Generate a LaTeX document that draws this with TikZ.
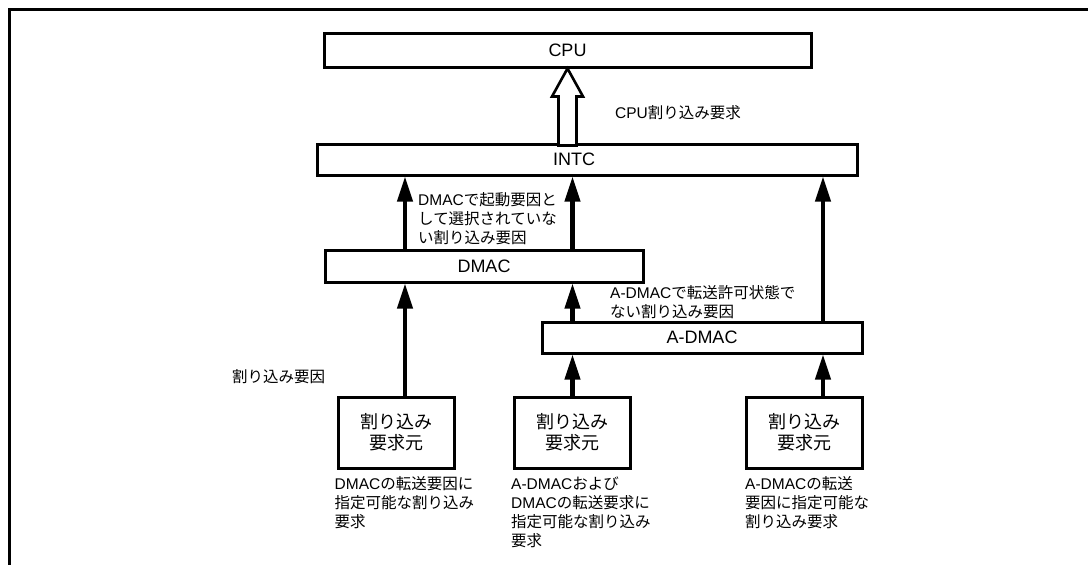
\documentclass[tikz,border=0pt]{standalone}
\usepackage{fontspec}
\setmainfont{Noto Sans CJK JP}
\newfontfamily\lat{Liberation Sans}
\usetikzlibrary{calc,arrows.meta}

\begin{document}
\begin{tikzpicture}[x=1pt, y=-1pt,
  unit/.style={draw, line width=3pt, fill=white, inner sep=0pt, minimum height=31pt, font=\lat\fontsize{18}{21}\selectfont},
  source/.style={draw, line width=3pt, fill=white, inner sep=0pt, minimum width=116pt, minimum height=71pt, align=center, font=\fontsize{18}{21}\selectfont},
  req/.style={line width=4.2pt, -{Triangle[length=25pt, width=15pt]}},
  hollow/.style={line width=2.6pt, fill=white},
  note/.style={inner sep=0pt, align=left, font=\fontsize{15.5}{19}\selectfont}]
\useasboundingbox (0,0) rectangle (1088,565);
% open frame, top and left side only
\draw[line width=3pt] (9,565) -- (9,9) -- (1088,9);
% the blocks, top to bottom
\node[unit, minimum width=487pt, minimum height=34pt] (cpu) at (567.5,50) {CPU};
\node[unit, minimum width=540pt] (intc) at (587,159.5) {\hspace*{-26pt}INTC};
\node[unit, minimum width=318pt, minimum height=32pt] (dmac) at (484,266) {DMAC};
\node[unit, minimum width=320pt] (adma) at (702,337.5) {A-DMAC};
\node[source] (src1) at (396,432.5) {割り込み\\要求元};
\node[source] (src2) at (572.5,432.5) {割り込み\\要求元};
\node[source] (src3) at (804.5,432.5) {割り込み\\要求元};
% columns the request lines run in
\coordinate (c1) at (405,0); \coordinate (c2) at (572.5,0); \coordinate (c3) at (823,0);
% wide hollow arrow INTC -> CPU
\draw[hollow] (cpu.south) -- ++(15.5,28) -- ++(-6.5,0) -- ++(0,49) -- ++(-18,0) -- ++(0,-49) -- ++(-6.5,0) -- cycle;
% request lines
\draw[req] (c1 |- src1.north) -- (c1 |- dmac.south);
\draw[req] (c1 |- dmac.north) -- (c1 |- intc.south); \draw[req] (c2 |- dmac.north) -- (c2 |- intc.south);
\draw[req] (c2 |- src2.north) -- (c2 |- adma.south); \draw[req] (c2 |- adma.north) -- (c2 |- dmac.south);
\draw[req] (c3 |- src3.north) -- (c3 |- adma.south); \draw[req] (c3 |- adma.north) -- (c3 |- intc.south);
% labels
\node[note, anchor=west] (cpureq) at (615,113) {{\lat CPU}割り込み要求};
\node[note, anchor=west] (notsel) at (418,218.5) {{\lat DMAC}で起動要因と\\して選択されていな\\い割り込み要因};
\node[note, anchor=west] (notperm) at (610,302.5) {{\lat A-DMAC}で転送許可状態で\\ない割り込み要因};
\node[note, anchor=west] (irqsrc) at (232,377) {割り込み要因};
% what each source can be
\node[note, anchor=north west] (cap1) at ([shift={(-2,7)}]src1.south west) {{\lat DMAC}の転送要因に\\指定可能な割り込み\\要求};
\node[note, anchor=north west] (cap2) at ([shift={(-2,7)}]src2.south west) {{\lat A-DMAC}および\\{\lat DMAC}の転送要求に\\指定可能な割り込み\\要求};
\node[note, anchor=north west] (cap3) at ([shift={(0,7)}]src3.south west) {{\lat A-DMAC}の転送\\要因に指定可能な\\割り込み要求};
\end{tikzpicture}
\end{document}
